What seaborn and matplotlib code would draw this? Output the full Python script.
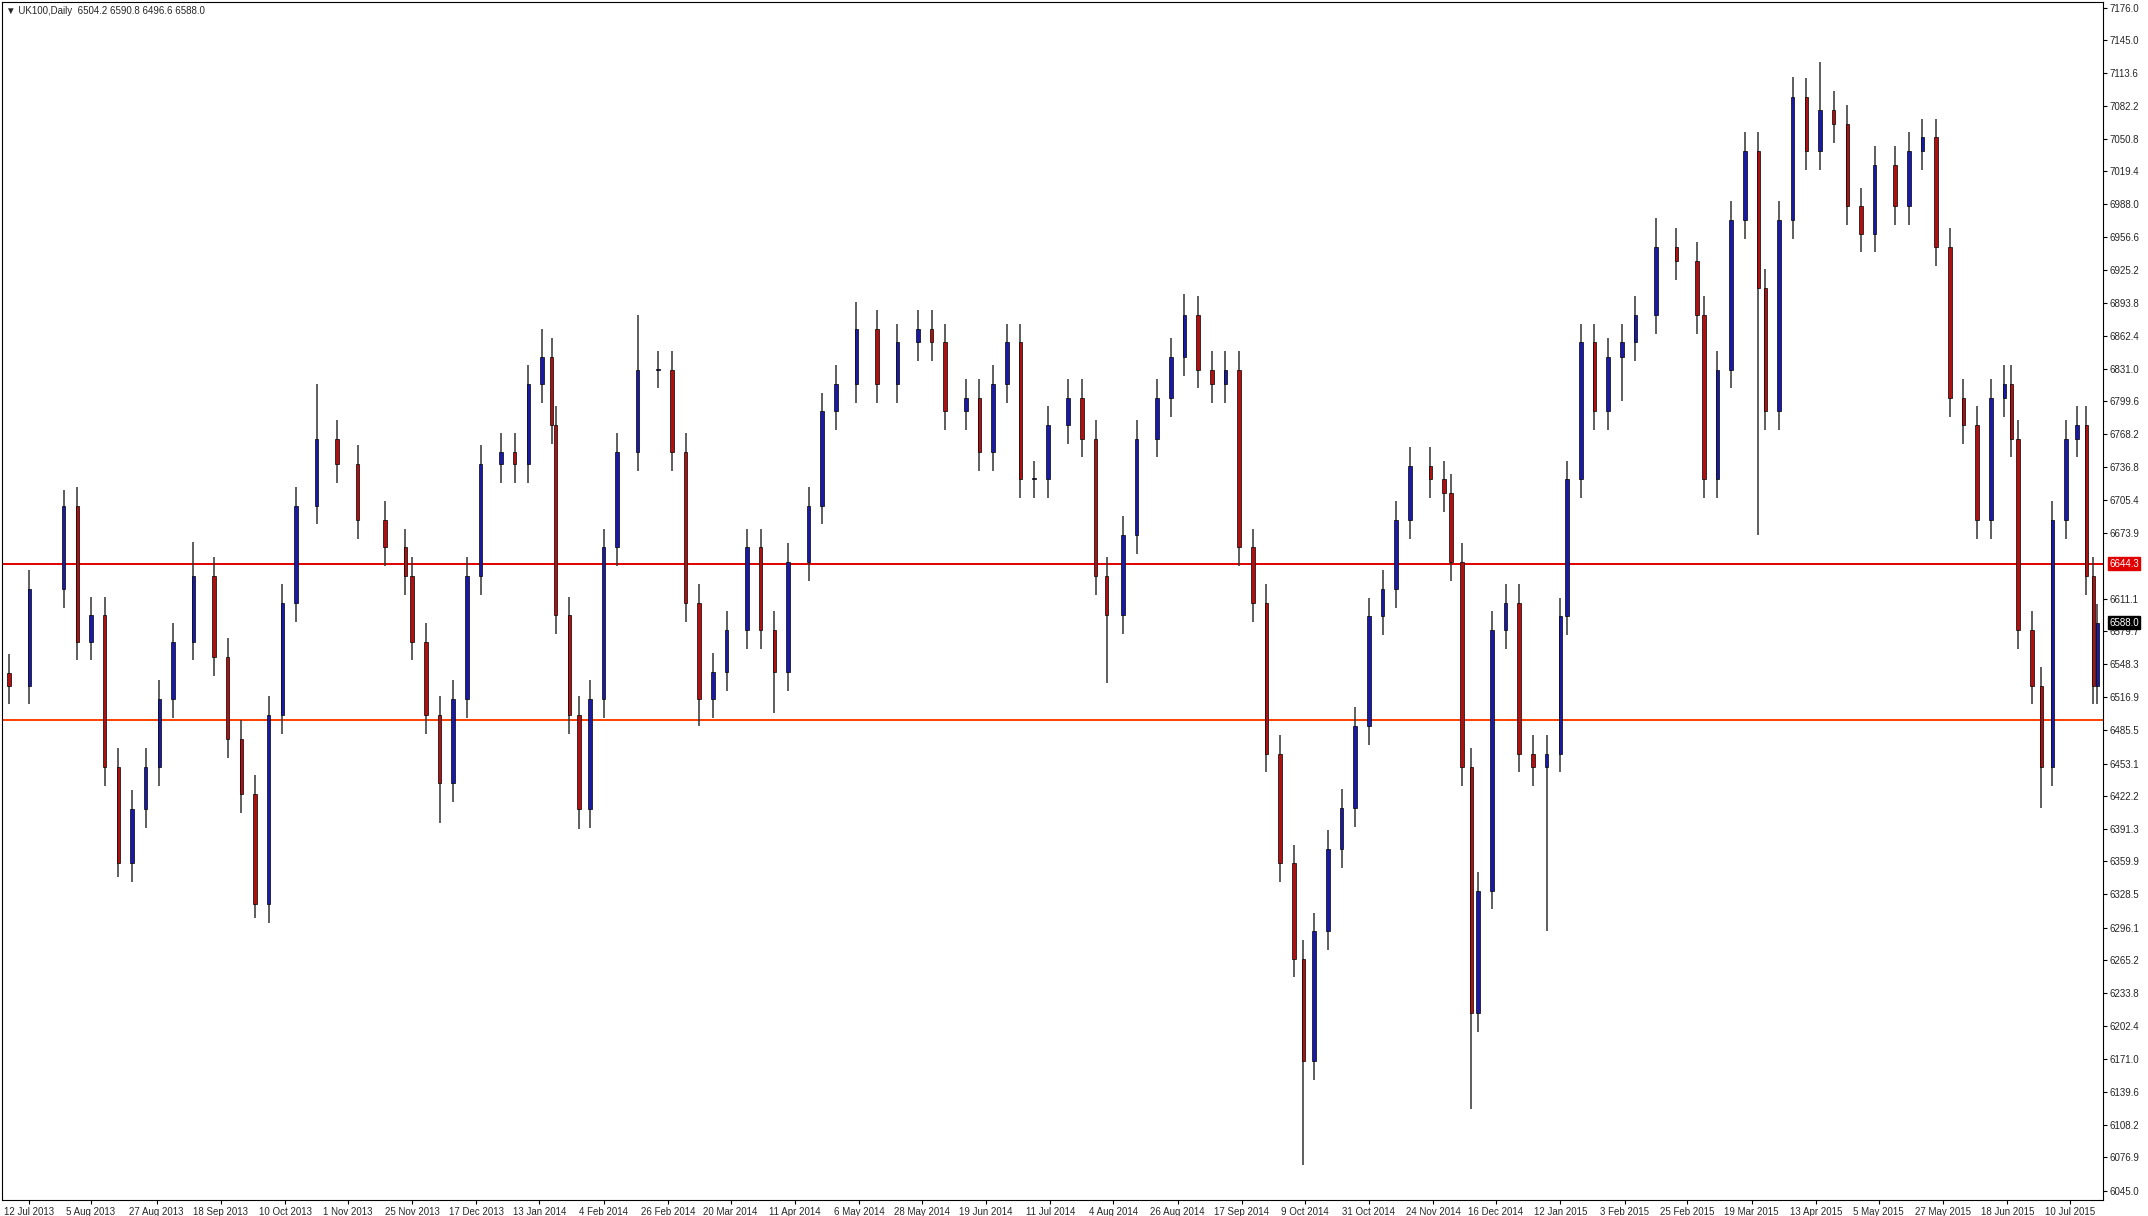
import matplotlib.pyplot as plt
import matplotlib.transforms as mtransforms
import seaborn as sns

# bar positions (chart x units) and closing prices
bar_pos = [5, 20, 45, 55, 65, 75, 85, 95, 105, 115,
           125, 140, 155, 165, 175, 185, 195, 205, 215, 230,
           245, 260, 280, 295, 300, 310, 320, 330, 340, 350,
           365, 375, 385, 395, 402, 405, 415, 422, 430, 440,
           450, 465, 480, 490, 500, 510, 520, 530, 545, 555,
           565, 575, 590, 600, 610, 625, 640, 655, 670, 680,
           690, 705, 715, 725, 735, 745, 755, 765, 780, 790,
           800, 808, 820, 830, 845, 855, 865, 875, 885, 895,
           905, 915, 925, 935, 945, 952, 960, 970, 980, 990,
           1000, 1010, 1020, 1030, 1045, 1055, 1060, 1068, 1075, 1080,
           1090, 1100, 1110, 1120, 1130, 1140, 1145, 1155, 1165, 1175,
           1185, 1195, 1210, 1225, 1240, 1245, 1255, 1265, 1275, 1285,
           1290, 1300, 1310, 1320, 1330, 1340, 1350, 1360, 1370, 1385,
           1395, 1405, 1415, 1425, 1435, 1445, 1455, 1465, 1470, 1475,
           1485, 1492, 1500, 1510, 1518, 1525, 1530, 1533]
closes = [6528, 6620, 6700, 6570, 6595, 6450, 6358, 6410, 6450, 6515,
          6570, 6633, 6555, 6477, 6424, 6319, 6500, 6607, 6700, 6764,
          6740, 6686, 6660, 6633, 6570, 6500, 6435, 6515, 6633, 6740,
          6751, 6740, 6816, 6842, 6777, 6595, 6500, 6410, 6515, 6660,
          6751, 6830, 6830, 6751, 6607, 6515, 6541, 6581, 6660, 6581,
          6541, 6646, 6700, 6790, 6816, 6869, 6816, 6856, 6869, 6856,
          6790, 6803, 6751, 6816, 6856, 6725, 6725, 6777, 6803, 6764,
          6633, 6595, 6672, 6764, 6803, 6842, 6882, 6830, 6816, 6830,
          6660, 6607, 6463, 6358, 6267, 6169, 6293, 6372, 6411, 6489,
          6594, 6620, 6686, 6738, 6725, 6712, 6646, 6450, 6215, 6332,
          6581, 6607, 6463, 6450, 6463, 6594, 6725, 6856, 6790, 6842,
          6856, 6882, 6947, 6934, 6882, 6725, 6830, 6973, 7039, 6908,
          6790, 6973, 7091, 7039, 7078, 7065, 6986, 6960, 7026, 6986,
          7039, 7052, 6947, 6803, 6777, 6686, 6803, 6816, 6764, 6581,
          6528, 6450, 6686, 6764, 6777, 6633, 6528, 6588]
first_open = 6540
# notable wick extremes (index: price)
wick_highs = {2: 6715, 11: 6665, 19: 6816, 33: 6869, 41: 6882, 55: 6895,
              76: 6902, 124: 7124, 112: 6975, 122: 7110}
wick_lows = {6: 6345, 15: 6306, 26: 6397, 37: 6391, 45: 6489, 50: 6502,
             71: 6530, 85: 6070, 98: 6123, 104: 6293, 119: 6672, 141: 6411,
             110: 6800}
wick_default = 18

tick_pos = [20, 65, 113, 160, 207, 253, 300, 347, 393, 440, 487, 533, 580,
            627, 673, 720, 767, 813, 860, 907, 953, 1000, 1047, 1093, 1140,
            1187, 1233, 1280, 1327, 1373, 1420, 1467, 1513]
tick_labels = ["12 Jul 2013", "5 Aug 2013", "27 Aug 2013", "18 Sep 2013",
               "10 Oct 2013", "1 Nov 2013", "25 Nov 2013", "17 Dec 2013",
               "13 Jan 2014", "4 Feb 2014", "26 Feb 2014", "20 Mar 2014",
               "11 Apr 2014", "6 May 2014", "28 May 2014", "19 Jun 2014",
               "11 Jul 2014", "4 Aug 2014", "26 Aug 2014", "17 Sep 2014",
               "9 Oct 2014", "31 Oct 2014", "24 Nov 2014", "16 Dec 2014",
               "12 Jan 2015", "3 Feb 2015", "25 Feb 2015", "19 Mar 2015",
               "13 Apr 2015", "5 May 2015", "27 May 2015", "18 Jun 2015",
               "10 Jul 2015"]
price_ticks = [7176.0, 7145.0, 7113.6, 7082.2, 7050.8, 7019.4, 6988.0, 6956.6,
               6925.2, 6893.8, 6862.4, 6831.0, 6799.6, 6768.2, 6736.8, 6705.4,
               6673.9, 6611.1, 6579.7, 6548.3, 6516.9, 6485.5, 6453.1,
               6422.2, 6391.3, 6359.9, 6328.5, 6296.1, 6265.2, 6233.8, 6202.4,
               6171.0, 6139.6, 6108.2, 6076.9, 6045.0]
red_level = 6644.3
orange_level = 6495.0
last_price = 6588.0

sns.set_theme(style="white")
plt.rcParams['font.family'] = ['Liberation Sans', 'DejaVu Sans']

fig = plt.figure(figsize=(21.48, 12.16), dpi=100)
ax = fig.add_axes([0.001, 0.013, 0.978, 0.985])

opens = [first_open] + closes[:-1]
for i, (x, o, c) in enumerate(zip(bar_pos, opens, closes)):
    hi = wick_highs.get(i, max(o, c) + wick_default)
    lo = wick_lows.get(i, min(o, c) - wick_default)
    ax.vlines(x, lo, hi, color="#333333", linewidth=1.1, zorder=2)
    col = "#1a1aa8" if c >= o else "#b01010"
    ax.bar(x, abs(c - o) or 1, bottom=min(o, c), width=2.6, color=col,
           edgecolor="black", linewidth=0.5, zorder=3)

ax.axhline(red_level, color="#e00000", linewidth=1.4, zorder=1)
ax.axhline(orange_level, color="#ff4000", linewidth=1.4, zorder=1)

ax.set_xlim(0, 1537)
ax.set_ylim(6036, 7181)
ax.set_xticks(tick_pos)
ax.set_xticklabels(tick_labels, fontsize=7, ha="center")
ax.yaxis.tick_right()
ax.set_yticks(price_ticks)
ax.set_yticklabels([f"{v:.1f}" for v in price_ticks], fontsize=7)
ax.tick_params(axis="both", direction="out", length=3, width=0.8,
               color="black", pad=2, bottom=True, right=True)
for s in ax.spines.values():
    s.set_color("black")
    s.set_linewidth(0.8)
ax.grid(False)

trans = mtransforms.blended_transform_factory(ax.transAxes, ax.transData)
ax.text(1.003, red_level, f"{red_level:.1f}", transform=trans, fontsize=7,
        color="white", va="center", ha="left",
        bbox=dict(boxstyle="square,pad=0.15", fc="#e00000", ec="#e00000"))
ax.text(1.003, last_price, f"{last_price:.1f}", transform=trans, fontsize=7,
        color="white", va="center", ha="left",
        bbox=dict(boxstyle="square,pad=0.15", fc="black", ec="black"))

ax.text(0.002, 0.997, "▼ UK100,Daily  6504.2 6590.8 6496.6 6588.0",
        transform=ax.transAxes, fontsize=7, va="top", ha="left",
        family=['Liberation Sans', 'DejaVu Sans'])

fig.savefig("out.png", dpi=100)
